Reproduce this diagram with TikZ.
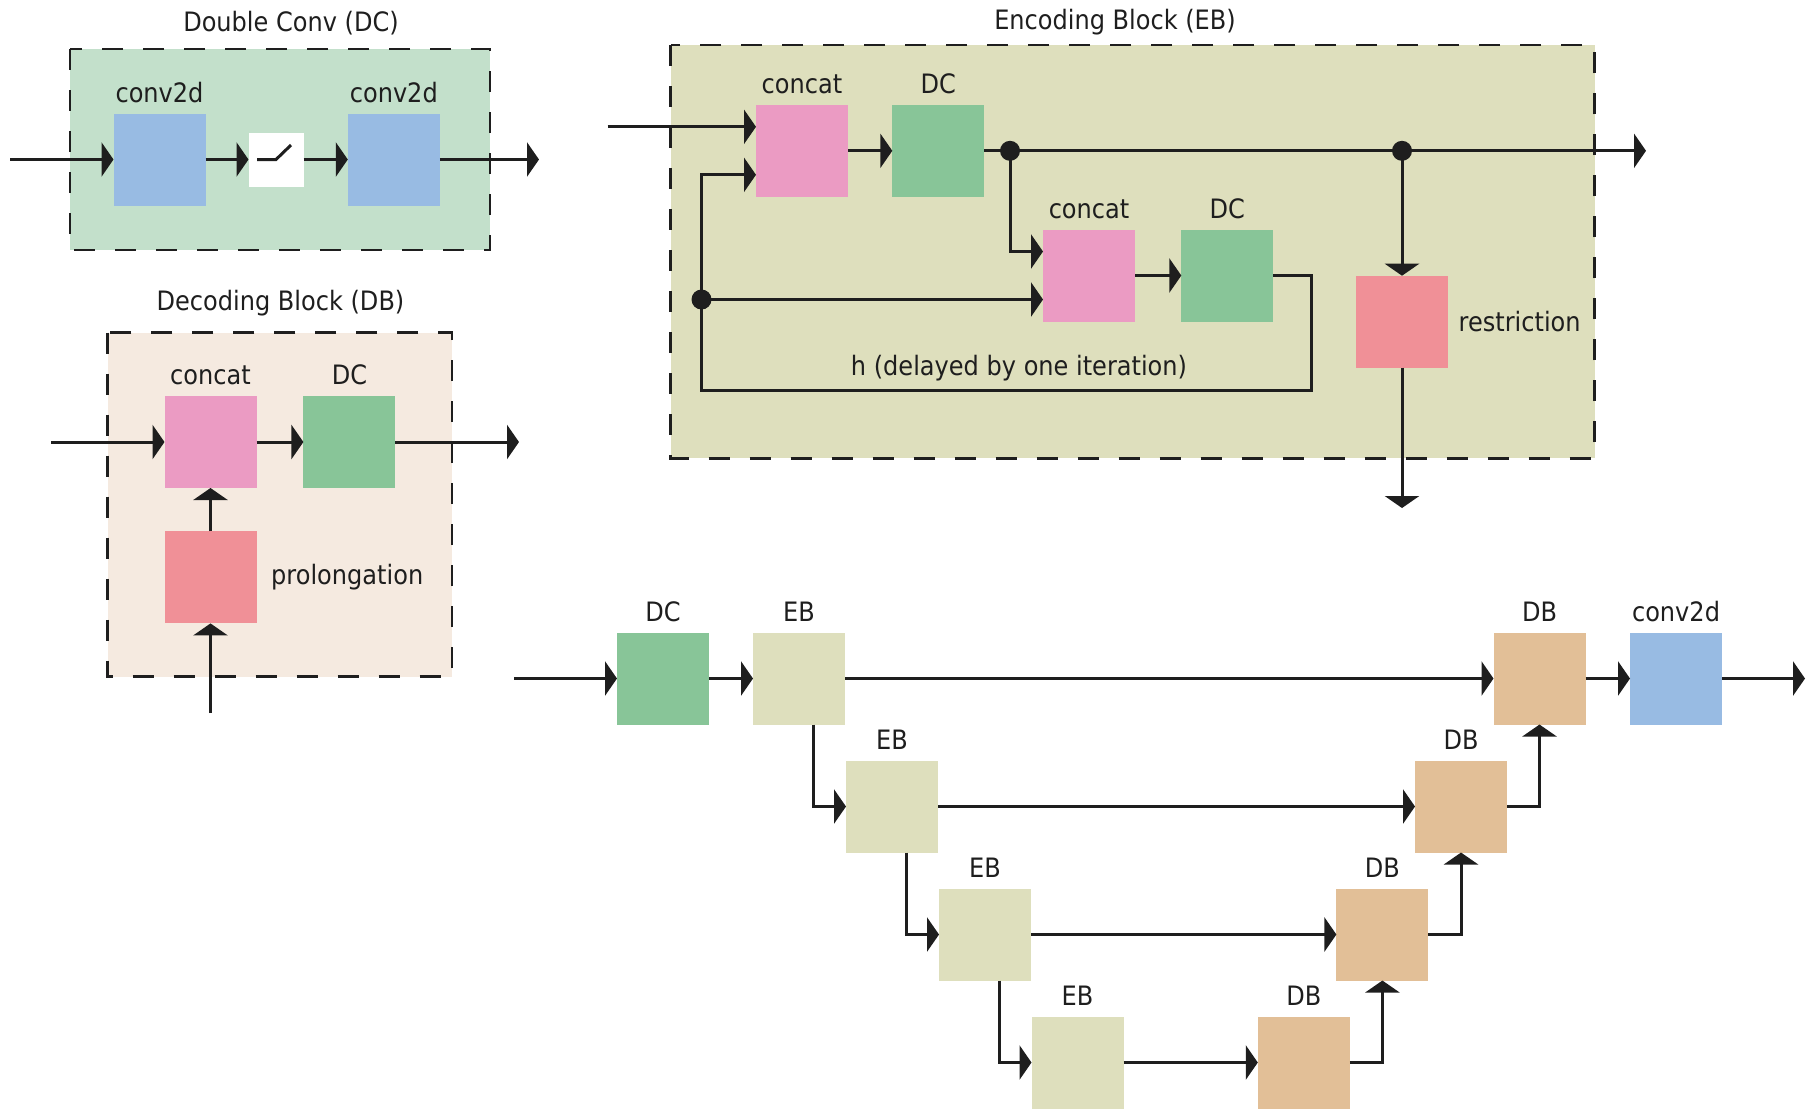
\documentclass[tikz,border=0pt]{standalone}
\usepackage{fontspec}
\setmainfont{DejaVu Sans}[FakeStretch=0.9]
\usepackage{tikz}
\usetikzlibrary{arrows.meta,positioning,calc}
\definecolor{ink}{HTML}{1E1E1E}
\definecolor{dcbg}{HTML}{C3E0CB}
\definecolor{ebbg}{HTML}{DEDFBD}
\definecolor{dbbg}{HTML}{F5EAE0}
\definecolor{convblue}{HTML}{98BBE3}
\definecolor{dcgreen}{HTML}{88C598}
\definecolor{catpink}{HTML}{EB9BC3}
\definecolor{resred}{HTML}{F09097}
\definecolor{dbtan}{HTML}{E2BF97}

\begin{document}
\begin{tikzpicture}[x=0.1mm, y=-0.1mm, color=ink,
  font=\fontsize{7.6pt}{9pt}\selectfont,
  blk/.style={minimum width=0.92cm, minimum height=0.92cm, inner sep=0pt, outer sep=0pt},
  wire/.style={line width=0.85pt},
  arr/.style={line width=0.85pt, -{Triangle[length=0.12cm, width=0.34cm]}},
  blockframe/.style={line width=0.75pt, dash pattern=on 0.21cm off 0.2cm},
  every label/.style={inner sep=0pt},
  label distance=0.1cm]
\useasboundingbox (0,0) rectangle (1806,1109);

% ---------- Double Conv (DC)
\draw[blockframe, fill=dcbg] (70,49) rectangle (490,250);
\node (dctitle) at (291,23) {Double Conv (DC)};
\node[blk, fill=convblue, label={above:conv2d}] (conva) at (159.5,159.5) {};
\node[blk, fill=white, minimum width=0.55cm, minimum height=0.54cm] (relu) at (276,159.5) {};
\draw[wire] ([xshift=-0.19cm]relu.center) -- (relu.center) -- ++(0.15cm,0.145cm);
\node[blk, fill=convblue, label={above:conv2d}] (convb) at (393.8,159.5) {};
\coordinate (dcin) at (10,159.5);
\coordinate (dcout) at (539,159.5);
\draw[arr] (dcin) -- (conva);
\draw[arr] (conva) -- (relu);
\draw[arr] (relu) -- (convb);
\draw[arr] (convb) -- (dcout);

% ---------- Decoding Block (DB)
\draw[blockframe, fill=dbbg] (107.7,332.7) rectangle (452,676.7);
\node (dbtitle) at (280.5,303) {Decoding Block (DB)};
\node[blk, fill=catpink, label={above:concat}] (dbcat) at (210.5,442) {};
\node[blk, fill=dcgreen, label={above:DC}] (dbdc) at (349.4,442) {};
\node[blk, fill=resred, label={[xshift=0.04cm]right:prolongation}] (prol) at (210.5,577.4) {};
\coordinate (dbin) at (51,442);
\coordinate (dbout) at (519,442);
\coordinate (prolin) at (210.5,713);
\draw[arr] (dbin) -- (dbcat);
\draw[arr] (dbcat) -- (dbdc);
\draw[arr] (dbdc) -- (dbout);
\draw[arr] (prol) -- (dbcat);
\draw[arr] (prolin) -- (prol);

% ---------- Encoding Block (EB)
\draw[blockframe, fill=ebbg] (670.8,45) rectangle (1594.6,458.3);
\node (ebtitle) at (1115,21.7) {Encoding Block (EB)};
\node[blk, fill=catpink, label={above:concat}] (ebcata) at (802,150.8) {};
\node[blk, fill=dcgreen, label={above:DC}] (ebdca) at (938.3,150.8) {};
\node[blk, fill=catpink, label={above:concat}] (ebcatb) at (1089,275.5) {};
\node[blk, fill=dcgreen, label={above:DC}] (ebdcb) at (1227.3,275.5) {};
\node[blk, fill=resred, label={right:restriction}] (restr) at (1402,321.7) {};
\node (hnote) at (1019,368.3) {h (delayed by one iteration)};
\coordinate (ebin) at (607.7,126.8);
\coordinate (ebout) at (1646,150.8);
\coordinate (ebdown) at (1402,508);
\coordinate (dota) at (1010,150.8);
\coordinate (dotb) at (1402,150.8);
\coordinate (dotc) at (701.5,299.5);
\coordinate (fbr) at (1311.5,390);
\coordinate (fbl) at (701.5,390);
\draw[arr] (ebin) -- (ebin -| ebcata.west);
\draw[arr] (ebcata) -- (ebdca);
\draw[arr] (ebdca) -- (ebout);
\draw[arr] (dota) |- ([yshift=0.24cm]ebcatb.west);
\draw[arr] (ebcatb) -- (ebdcb);
\draw[arr] (ebdcb) -| (fbr) -- (fbl) |- ([yshift=-0.24cm]ebcata.west);
\draw[arr] (dotc) -- (dotc -| ebcatb.west);
\draw[arr] (dotb) -- (restr);
\draw[arr] (restr) -- (ebdown);
\foreach \d in {dota,dotb,dotc}
  \fill (\d) circle (0.1cm);

% ---------- U-Net: DC, four EB/DB levels, conv2d
\node[blk, fill=dcgreen, label={above:DC}] (udc) at (663,678.5) {};
\node[blk, fill=convblue, label={above:conv2d}] (uconv) at (1676,678.5) {};
\foreach \i/\ex/\dx/\yy in {1/799/1539.5/678.5, 2/892/1461/806.5, 3/985/1382.4/934.5, 4/1077.5/1303.8/1062.5}{
  \node[blk, fill=ebbg, label={above:EB}] (eb\i) at (\ex,\yy) {};
  \node[blk, fill=dbtan, label={above:DB}] (db\i) at (\dx,\yy) {};
  \draw[arr] (eb\i) -- (db\i);}
\foreach \i/\j in {1/2, 2/3, 3/4}{
  \draw[arr] ([xshift=0.14cm]eb\i.south) |- (eb\j);
  \draw[arr] (db\j) -| (db\i);}
\coordinate (uin) at (514,678.5);
\coordinate (uout) at (1805,678.5);
\draw[arr] (uin) -- (udc);
\draw[arr] (udc) -- (eb1);
\draw[arr] (db1) -- (uconv);
\draw[arr] (uconv) -- (uout);
\end{tikzpicture}
\end{document}
